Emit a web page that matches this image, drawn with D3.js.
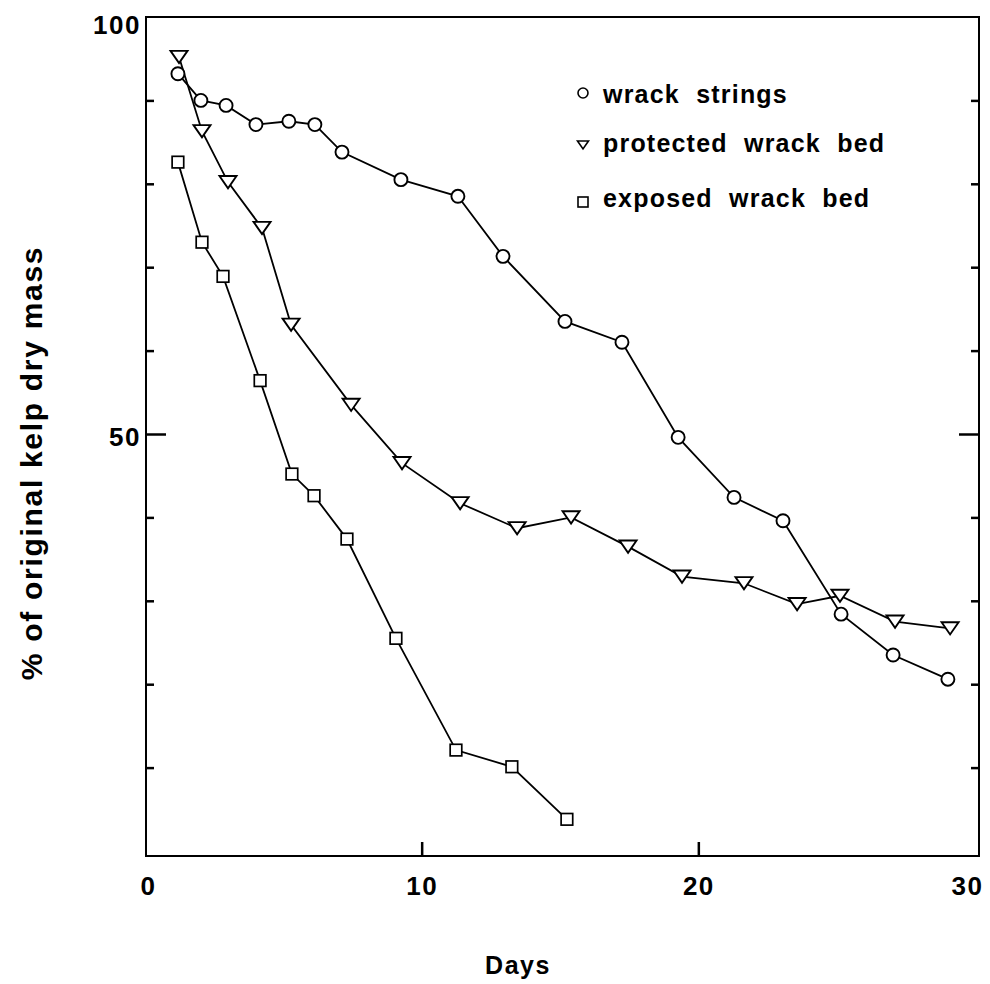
<!DOCTYPE html>
<html><head><meta charset="utf-8">
<script src="https://cdn.jsdelivr.net/npm/d3@7"></script>
<style>
body{margin:0;background:#fff;}
text{font-family:"Liberation Sans",Arial,Helvetica,sans-serif;font-weight:bold;fill:#000;}
</style></head>
<body><svg id="c" width="990" height="984"></svg>
<script>
// ---- data ----
const stringsDays = [1.19,2.02,2.93,4.01,5.20,6.14,7.12,9.25,11.31,12.94,15.18,17.24,19.27,21.29,23.06,25.16,27.04,29.02];
const stringsVals = [93.2,90.0,89.4,87.1,87.5,87.1,83.8,80.5,78.5,71.3,63.5,61.0,49.6,42.4,39.6,28.4,23.5,20.6];
const protectedDays = [1.23,2.06,3.00,4.23,5.28,7.45,9.29,11.39,13.45,15.40,17.46,19.41,21.65,23.57,25.12,27.11,29.10];
const protectedVals = [95.2,86.3,80.2,74.7,63.1,53.5,46.5,41.7,38.7,40.0,36.5,32.9,32.1,29.6,30.6,27.5,26.7];
const exposedDays = [1.19,2.06,2.82,4.16,5.31,6.11,7.30,9.07,11.24,13.26,15.25];
const exposedVals = [82.6,73.0,68.9,56.4,45.2,42.6,37.4,25.5,12.1,10.1,3.8];
const seriesNames = ["wrack  strings","protected  wrack  bed","exposed  wrack  bed"];
const xTickLabels = [0,10,20,30];
const yTickLabels = [50,100];
const yMinorTicks = [10,20,30,40,60,70,80,90];
const xLabel = "Days";
const yLabel = "% of original kelp dry mass";

// ---- layout ----
const svg = d3.select("#c");
const x = d3.scaleLinear().domain([0,30]).range([145,975]);
const y = d3.scaleLinear().domain([0,100]).range([851,17]);
const L = 146, R = 979, T = y(100), B = 856;

// frame
svg.append("path")
  .attr("d",`M${L},${T}H${R}V${B}H${L}Z`)
  .attr("fill","none").attr("stroke","#000").attr("stroke-width",2);

function styleAxis(g){
  g.select(".domain").remove();
  g.selectAll("line").attr("stroke","#000").attr("stroke-width",2.5);
}
// left ticks
svg.append("g").attr("transform",`translate(${L},0)`)
  .call(d3.axisRight(y).tickValues(yMinorTicks).tickSize(8).tickFormat(""))
  .call(styleAxis);
svg.append("g").attr("transform",`translate(${L},0)`)
  .call(d3.axisRight(y).tickValues([50]).tickSize(20).tickFormat(""))
  .call(styleAxis);
// right ticks
svg.append("g").attr("transform",`translate(${R},0)`)
  .call(d3.axisLeft(y).tickValues(yMinorTicks).tickSize(8).tickFormat(""))
  .call(styleAxis);
svg.append("g").attr("transform",`translate(${R},0)`)
  .call(d3.axisLeft(y).tickValues([50]).tickSize(20).tickFormat(""))
  .call(styleAxis);
// bottom ticks
svg.append("g").attr("transform",`translate(0,${B})`)
  .call(d3.axisTop(x).tickValues([10,20]).tickSize(14).tickFormat(""))
  .call(styleAxis);

// y labels
const yl = svg.append("g").attr("transform",`translate(${L},0)`)
  .call(d3.axisLeft(y).tickValues(yTickLabels).tickSize(0).tickPadding(5));
yl.select(".domain").remove();
yl.selectAll("text").attr("font-size",26).attr("letter-spacing",1.5)
  .attr("font-family",null).attr("dy","0.36em")
  .attr("y",d=>d===100?7:2);
// x labels
const xl = svg.append("g").attr("transform",`translate(0,${B})`)
  .call(d3.axisBottom(x).tickValues(xTickLabels).tickSize(0).tickPadding(21));
xl.select(".domain").remove();
xl.selectAll("text").attr("font-size",26).attr("letter-spacing",1.5).attr("font-family",null)
  .attr("dx",d=>d===0?3:(d===30?-8:0));

// axis titles
svg.append("text").attr("x",518).attr("y",974).attr("text-anchor","middle")
  .attr("font-size",25).attr("letter-spacing",1.5).text(xLabel);
svg.append("text").attr("transform","translate(42,463) rotate(-90)")
  .attr("text-anchor","middle").attr("font-size",30).attr("letter-spacing",1.7).text(yLabel);

// ---- series ----
const line = d3.line().x(d=>x(d[0])).y(d=>y(d[1]));
const zip = (a,b)=>a.map((v,i)=>[v,b[i]]);
const sS = zip(stringsDays,stringsVals), sP = zip(protectedDays,protectedVals), sE = zip(exposedDays,exposedVals);
[sS,sP,sE].forEach(s=>{
  svg.append("path").datum(s).attr("d",line)
    .attr("fill","none").attr("stroke","#000").attr("stroke-width",1.8);
});
const tri = (s)=>`M${-s},${-s*0.72}L${s},${-s*0.72}L0,${s*0.72}Z`;
function circles(g,data,r){
  g.selectAll(null).data(data).join("circle")
   .attr("cx",d=>x(d[0])).attr("cy",d=>y(d[1])).attr("r",r)
   .attr("fill","#fff").attr("stroke","#000").attr("stroke-width",1.9);
}
function triangles(g,data,s){
  g.selectAll(null).data(data).join("path")
   .attr("transform",d=>`translate(${x(d[0])},${y(d[1])})`).attr("d",tri(s))
   .attr("fill","#fff").attr("stroke","#000").attr("stroke-width",1.9);
}
function squares(g,data,h){
  g.selectAll(null).data(data).join("rect")
   .attr("x",d=>x(d[0])-h).attr("y",d=>y(d[1])-h).attr("width",2*h).attr("height",2*h)
   .attr("fill","#fff").attr("stroke","#000").attr("stroke-width",1.7);
}
const mk = svg.append("g");
circles(mk,sS,6.5);
triangles(mk,sP,8.5);
squares(mk,sE,5.8);

// ---- legend ----
const lg = svg.append("g");
const ly = [103,157,212];
lg.append("circle").attr("cx",583).attr("cy",ly[0]-10).attr("r",5)
  .attr("fill","#fff").attr("stroke","#000").attr("stroke-width",1.6);
lg.append("path").attr("transform",`translate(583,${ly[1]-12})`).attr("d",tri(5.5))
  .attr("fill","#fff").attr("stroke","#000").attr("stroke-width",1.6);
lg.append("rect").attr("x",578).attr("y",ly[2]-15).attr("width",10).attr("height",10)
  .attr("fill","#fff").attr("stroke","#000").attr("stroke-width",1.6);
lg.selectAll(null).data(seriesNames).join("text")
  .attr("x",603).attr("y",(d,i)=>ly[i]-(i===0?0:5))
  .attr("font-size",25).attr("letter-spacing",1.2)
  .attr("xml:space","preserve").style("white-space","pre")
  .text(d=>d);
</script></body></html>
